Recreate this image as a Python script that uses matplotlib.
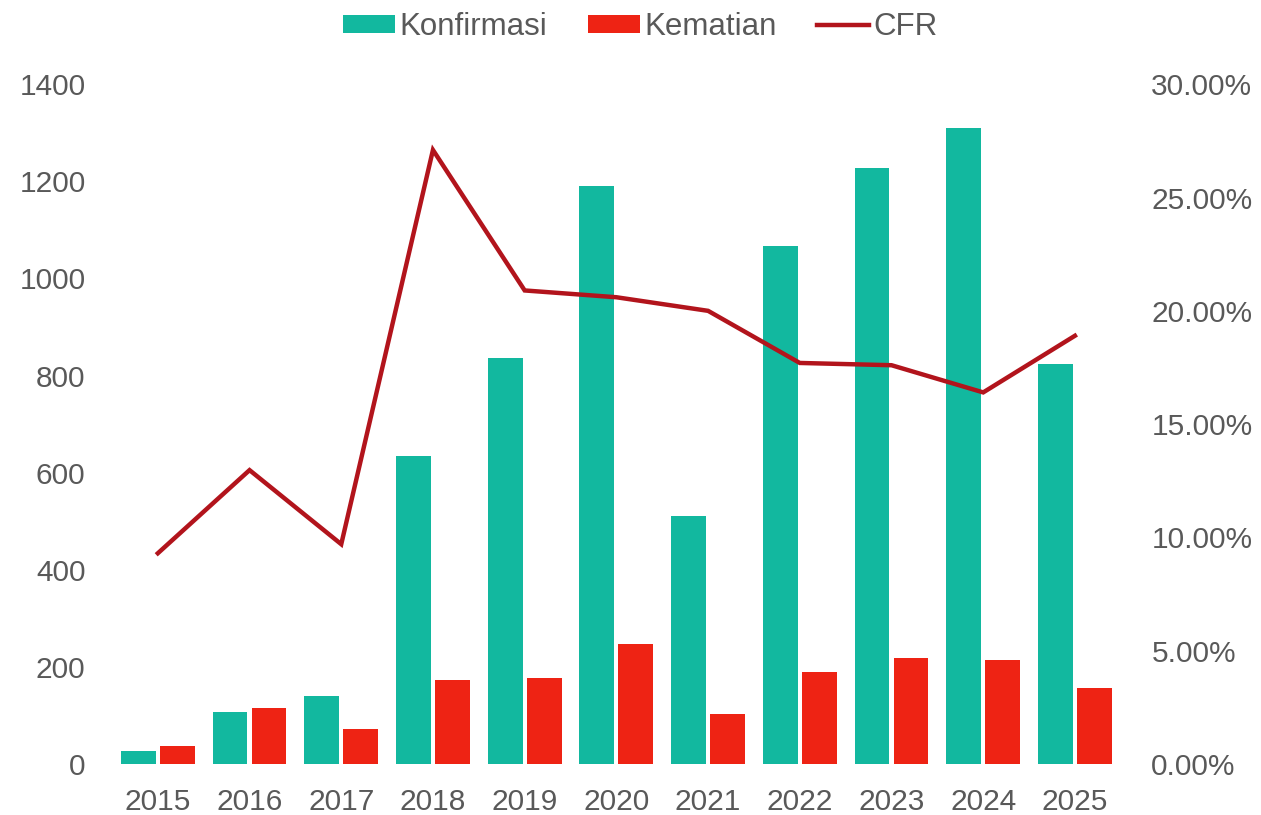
import matplotlib
matplotlib.use("Agg")
import matplotlib.pyplot as plt
import numpy as np
from matplotlib.ticker import FuncFormatter

years = ["2015", "2016", "2017", "2018", "2019", "2020", "2021", "2022", "2023", "2024", "2025"]
konfirmasi = [26, 108, 141, 634, 836, 1190, 511, 1066, 1227, 1309, 824]
kematian = [38, 116, 72, 173, 177, 247, 103, 189, 218, 214, 156]
cfr = [9.3, 12.97, 9.7, 27.1, 20.9, 20.6, 20.0, 17.7, 17.6, 16.4, 18.9]

plt.rcParams['font.family'] = ['Liberation Sans', 'DejaVu Sans']
gray = '#595959'
fs = 21.5

fig = plt.figure(figsize=(12.61, 8.15), dpi=100)
ax = fig.add_axes([0.0888, 0.0626, 0.800, 0.834])
ax2 = ax.twinx()

x = np.arange(len(years))
w = 0.38
gap = 0.045
b1 = ax.bar(x - (w + gap) / 2, konfirmasi, w, color='#12B89F', label='Konfirmasi', zorder=2)
b2 = ax.bar(x + (w + gap) / 2, kematian, w, color='#EE2314', label='Kematian', zorder=2)
l1, = ax2.plot(x, cfr, color='#B2141C', lw=3.2, label='CFR', solid_joinstyle='miter')

ax.set_xlim(-0.5, len(years) - 0.5)
ax.set_ylim(0, 1400)
ax.set_yticks(range(0, 1401, 200))
ax2.set_ylim(0, 30)
ax2.set_yticks(range(0, 31, 5))
ax2.yaxis.set_major_formatter(FuncFormatter(lambda v, p: f"{v:.2f}%"))

ax.set_xticks(x)
ax.set_xticklabels(years)

for a in (ax, ax2):
    for s in a.spines.values():
        s.set_visible(False)
    a.tick_params(length=0, labelsize=fs, colors=gray)

ax.tick_params(axis='y', pad=19)
ax2.tick_params(axis='y', pad=22)
ax.tick_params(axis='x', pad=17)

fig.legend(handles=[b1, b2, l1], labels=['Konfirmasi', 'Kematian', 'CFR'],
           loc='upper center', bbox_to_anchor=(0.508, 1.02), ncol=3, frameon=False,
           fontsize=22.5, labelcolor=gray, handlelength=1.65, handleheight=0.5,
           columnspacing=1.3, handletextpad=0.15)

fig.savefig('out.png', dpi=100)
